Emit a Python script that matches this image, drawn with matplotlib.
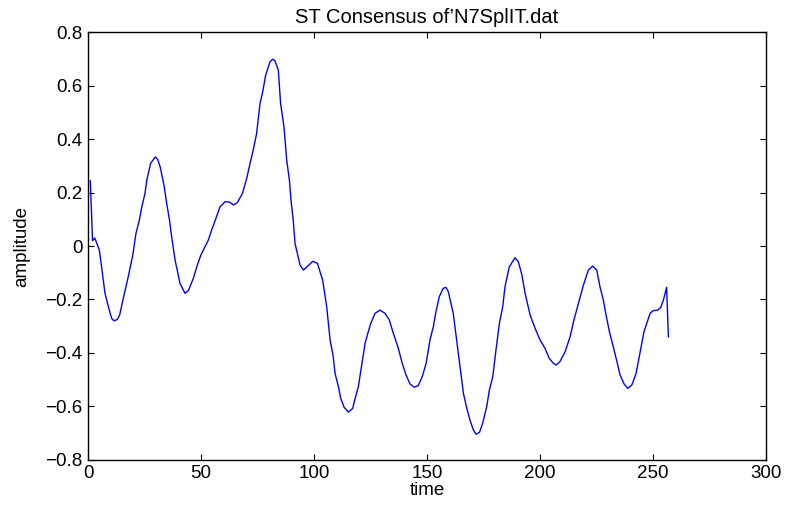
import numpy as np
import matplotlib
matplotlib.use("Agg")
import matplotlib.pyplot as plt

# values (sample index, amplitude)
TIME = [
    1, 2, 3, 5, 6, 7.5, 9, 10.5, 11.5, 13, 14, 15.6, 17.8, 19.8, 21.2, 22.7,
    23.8, 25.2, 26, 27.7, 29.8, 30.8, 31.9, 33.6, 34.8, 36, 37, 38.5, 40.7,
    42.9, 44.4, 46.6, 48.1, 49.9, 51.8, 53.2, 54.7, 56.6, 58.4, 60.6, 62.5,
    64.3, 66, 68.3, 70.2, 71.7, 73.1, 74.6, 76.1, 77.3, 78.6, 80.5, 81.7,
    82.7, 84.2, 85.2, 86.7, 87.9, 89.1, 89.8, 90.8, 91.6, 92.6, 93.8, 95.3,
    97.2, 99.5, 101.5, 103.8, 105.6, 107.1, 108.5, 109.3, 110.8, 111.8,
    113.3, 115.2, 117.1, 118.1, 119.6, 121.1, 122.6, 124, 125.1, 127, 129.2,
    131.4, 133.3, 135.1, 137.3, 138.8, 140.7, 142.5, 144.4, 146.1, 147.9,
    149.6, 151.3, 152.8, 153.8, 155.4, 157.2, 158.4, 159.4, 161.6, 163.1,
    164.6, 166.1, 167.6, 169, 170.5, 171.7, 173.2, 174.6, 176.4, 177.6,
    179.1, 180.5, 182, 183.5, 184.5, 186.4, 188.9, 190.4, 191.9, 193.4,
    195.6, 197.8, 200, 202.2, 204.1, 205.9, 207.1, 208.8, 211.1, 213.3, 215,
    217, 219.2, 221.4, 223.3, 225.1, 226.5, 228, 229.2, 230.7, 232.4, 234.2,
    235.4, 237.2, 238.8, 240.6, 242.5, 244.2, 246, 247.2, 248.7, 250.1,
    252.1, 253.4, 254.6, 256, 256.8,
]
AMPLITUDE = [
    0.245, 0.02, 0.03, -0.015, -0.078, -0.177, -0.227, -0.272, -0.28, -0.275,
    -0.258, -0.196, -0.115, -0.034, 0.047, 0.097, 0.147, 0.197, 0.247, 0.31,
    0.334, 0.325, 0.297, 0.228, 0.16, 0.10, 0.035, -0.052, -0.14, -0.177,
    -0.167, -0.121, -0.078, -0.034, -0.002, 0.022, 0.06, 0.104, 0.147, 0.166,
    0.165, 0.154, 0.162, 0.197, 0.253, 0.31, 0.36, 0.422, 0.534, 0.578, 0.64,
    0.69, 0.70, 0.694, 0.659, 0.534, 0.447, 0.322, 0.247, 0.172, 0.097, 0.01,
    -0.027, -0.071, -0.09, -0.075, -0.057, -0.065, -0.127, -0.227, -0.352,
    -0.414, -0.477, -0.527, -0.57, -0.604, -0.622, -0.608, -0.574, -0.527,
    -0.446, -0.364, -0.321, -0.29, -0.252, -0.24, -0.252, -0.277, -0.327,
    -0.383, -0.433, -0.483, -0.517, -0.529, -0.523, -0.489, -0.439, -0.352,
    -0.302, -0.252, -0.19, -0.158, -0.155, -0.171, -0.252, -0.352, -0.452,
    -0.552, -0.608, -0.652, -0.689, -0.705, -0.698, -0.664, -0.602, -0.539,
    -0.489, -0.39, -0.29, -0.227, -0.152, -0.078, -0.044, -0.059, -0.105,
    -0.177, -0.258, -0.308, -0.352, -0.383, -0.421, -0.439, -0.446, -0.433,
    -0.396, -0.34, -0.277, -0.215, -0.146, -0.09, -0.075, -0.09, -0.152,
    -0.202, -0.258, -0.321, -0.377, -0.439, -0.483, -0.517, -0.533, -0.521,
    -0.477, -0.402, -0.321, -0.29, -0.252, -0.242, -0.24, -0.23, -0.202,
    -0.155, -0.34,
]

X_TICKS = [0, 50, 100, 150, 200, 250, 300]
Y_TICKS = [-0.8, -0.6, -0.4, -0.2, 0, 0.2, 0.4, 0.6, 0.8]
TITLE = "ST Consensus of\u2019N7SplIT.dat"

plt.rcParams["font.family"] = ["Liberation Sans", "DejaVu Sans"]
plt.rcParams["font.size"] = 13
plt.rcParams["axes.unicode_minus"] = True

fig = plt.figure(figsize=(7.86, 5.07), dpi=100)
ax = fig.add_axes([0.112, 0.0935, 0.8626, 0.8424])

ax.plot(np.array(TIME), np.array(AMPLITUDE), color="#0000ff", linewidth=1.0)

ax.set_xlim(0, 300)
ax.set_ylim(-0.8, 0.8)
ax.set_xticks(X_TICKS)
ax.set_yticks(Y_TICKS)
ax.set_xticklabels([str(v) for v in X_TICKS])
ax.set_yticklabels(["\u22120.8", "\u22120.6", "\u22120.4", "\u22120.2", "0",
                    "0.2", "0.4", "0.6", "0.8"])
ax.tick_params(direction="in", length=4.3, width=0.8, top=True, right=True,
               labelsize=13.5, pad=4)
for sp in ax.spines.values():
    sp.set_linewidth(1.0)

ax.set_title(TITLE, fontsize=14.5, pad=7)
ax.set_xlabel("time", fontsize=13.5, labelpad=0)
ax.set_ylabel("amplitude", fontsize=13.5, labelpad=11)

fig.savefig("out.png", dpi=100)
